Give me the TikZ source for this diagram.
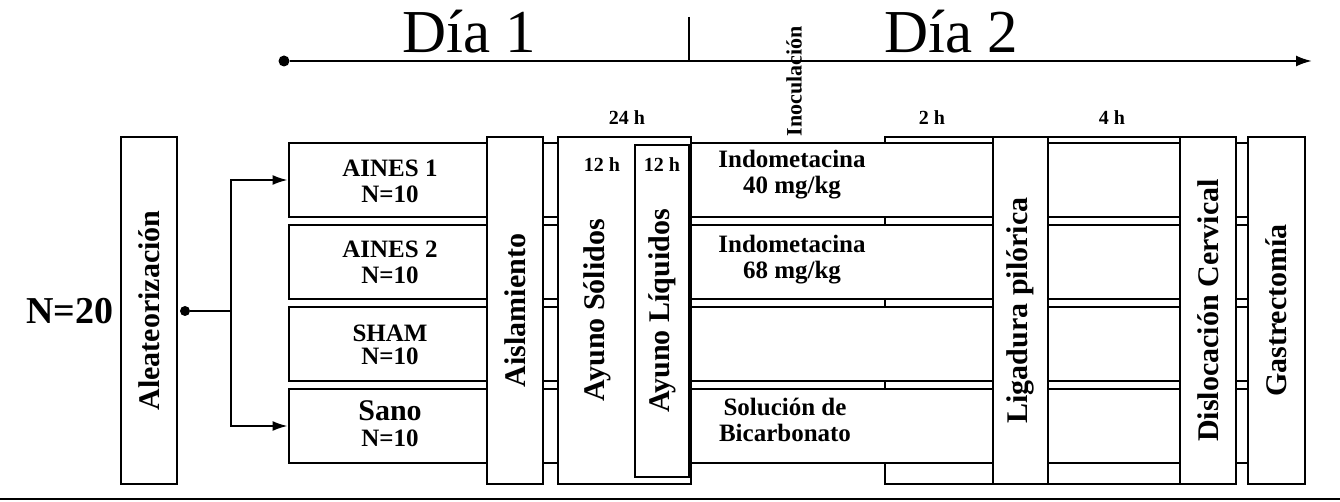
\documentclass[tikz,border=0pt]{standalone}
\usepackage{fontspec}
\setmainfont{Liberation Serif}
\usetikzlibrary{arrows.meta,positioning}

\begin{document}
\begin{tikzpicture}[x=1pt, y=-1pt,
  box/.style={rectangle, draw=black, fill=white, line width=2.8pt, inner sep=0pt},
  vbox/.style={box, rotate=90, minimum width=347pt, minimum height=56pt,
    font=\fontsize{30}{30}\selectfont\bfseries},
  vlabel/.style={rotate=90, inner sep=0pt, font=\fontsize{30}{30}\selectfont\bfseries},
  rowbox/.style={box, minimum width=981pt, minimum height=74pt},
  grp/.style={align=center, inner sep=0pt, font=\fontsize{25}{26}\selectfont\bfseries},
  hrs/.style={anchor=base, inner sep=0pt, font=\fontsize{20}{20}\selectfont\bfseries},
  dia/.style={anchor=base, inner sep=0pt, font=\fontsize{61}{61}\selectfont},
  arr/.style={-{Latex[length=15pt, width=10pt]}, line width=2pt},
  dot/.style={circle, fill=black, inner sep=0pt, minimum size=10pt},
]
  \useasboundingbox (0,0) rectangle (1340,502);

  % time line
  \node[dot, minimum size=11pt] (t0) at (284,61) {};
  \coordinate (tEnd) at (1312,61);
  \draw[line width=2.2pt, -{Latex[length=16pt, width=11pt]}] (t0) -- (tEnd);
  \coordinate (tickTop) at (689,17);
  \coordinate (tickBot) at (689,61);
  \draw[line width=1.6pt] (tickTop) -- (tickBot);
  \node[dia] (d1) at (469,53) {Día 1};
  \node[dia] (d2) at (951,53) {Día 2};
  \node[rotate=90, inner sep=0pt, font=\fontsize{22}{22}\selectfont\bfseries] (inoc) at (794,81) {Inoculación};

  % frame behind the rows (2 h + 4 h)
  \node[box, minimum width=323pt, minimum height=347pt] (post) at (1046.5,310.5) {};

  % groups
  \node[rowbox] (r1) at (779.5,180) {};
  \node[rowbox] (r2) at (779.5,262) {};
  \node[rowbox] (r3) at (779.5,344) {};
  \node[rowbox] (r4) at (779.5,426) {};

  % steps
  \node[vbox] (alea) at (149,310.5) {Aleateorización};
  \node[vbox] (aisl) at (515,310.5) {Aislamiento};
  \node[vbox, minimum height=133pt] (sol) at (624.5,310.5) {};
  \node[vlabel] (solT) at (597,310) {Ayuno Sólidos};
  \node[vbox, minimum width=332pt, minimum height=54pt] (liq) at (662,311) {Ayuno Líquidos};
  \node[vbox, minimum height=55pt] (lig) at (1020.5,310.5) {Ligadura pilórica};
  \node[vbox] (disl) at (1208,310.5) {Dislocación Cervical};
  \node[vbox, minimum height=57pt] (gast) at (1276.5,310.5) {Gastrectomía};

  % labels
  \node[inner sep=0pt, font=\fontsize{38}{38}\selectfont\bfseries] (n20) at (70,311) {N=20};
  \node[grp] (g1) at (390,181) {AINES 1\\N=10};
  \node[grp] (g2) at (390,262) {AINES 2\\N=10};
  \node[grp, font=\fontsize{25}{23}\selectfont\bfseries] (g3) at (390,345) {SHAM\\N=10};
  \node[grp] (g4) at (390,424) {{\fontsize{30}{28}\selectfont Sano}\\N=10};
  \node[grp] (m1) at (792,175) {Indometacina\\40 mg/kg};
  \node[grp] (m2) at (792,260) {Indometacina\\68 mg/kg};
  \node[grp] (m4) at (785,420) {Solución de\\Bicarbonato};

  \node[hrs] (h24) at (627,125) {24 h};
  \node[hrs] (h12a) at (602,172) {12 h};
  \node[hrs] (h12b) at (662,172) {12 h};
  \node[hrs] (h2) at (932,125) {2 h};
  \node[hrs] (h4) at (1112,125) {4 h};

  % randomisation
  \node[dot] (src) at (185,311) {};
  \coordinate (split) at (231,311);
  \draw[line width=2pt] (src) -- (split);
  \draw[arr] (split) |- (r1.west);
  \draw[arr] (split) |- (r4.west);

  % rule at the bottom
  \coordinate (ruleL) at (0,499);
  \coordinate (ruleR) at (1340,499);
  \draw[line width=2pt] (ruleL) -- (ruleR);
\end{tikzpicture}
\end{document}
